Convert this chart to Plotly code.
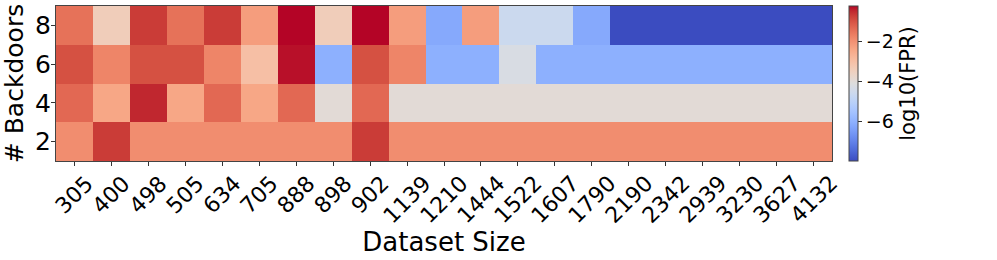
import plotly.graph_objects as go

dataset_sizes = ["305", "400", "498", "505", "634", "705", "888", "898", "902", "1139",
                 "1210", "1444", "1522", "1607", "1790", "2190", "2342", "2939", "3230", "3627", "4132"]
backdoors = [2, 4, 6, 8]

row_2 = [-1.9, -0.67, -1.9, -1.9, -1.9, -1.9, -1.9, -1.9, -0.67, -1.9,
         -1.9, -1.9, -1.9, -1.9, -1.9, -1.9, -1.9, -1.9, -1.9, -1.9, -1.9]
row_4 = [-1.3, -2.4, -0.44, -2.4, -1.3, -2.4, -1.3, -3.95, -1.3, -3.95,
         -3.95, -3.95, -3.95, -3.95, -3.95, -3.95, -3.95, -3.95, -3.95, -3.95, -3.95]
row_6 = [-0.94, -1.76, -0.94, -0.94, -1.76, -3.0, -0.28, -6.05, -0.94, -1.76,
         -6.05, -6.05, -4.25, -6.05, -6.05, -6.05, -6.05, -6.05, -6.05, -6.05, -6.05]
row_8 = [-1.45, -3.4, -0.67, -1.45, -0.67, -2.2, -0.2, -3.4, -0.2, -2.2,
         -6.2, -2.2, -4.6, -4.6, -6.2, -8.0, -8.0, -8.0, -8.0, -8.0, -8.0]

coolwarm_rgb = [
    (59, 76, 192), (68, 90, 204), (77, 104, 215), (87, 117, 225), (98, 130, 234),
    (108, 142, 241), (119, 154, 247), (130, 165, 251), (141, 176, 254), (152, 185, 255),
    (163, 194, 255), (174, 201, 253), (184, 208, 249), (194, 213, 244), (204, 217, 238),
    (213, 219, 230), (221, 221, 221), (229, 216, 209), (236, 211, 197), (241, 204, 184),
    (245, 196, 172), (247, 187, 159), (247, 177, 147), (247, 167, 134), (244, 154, 123),
    (241, 141, 111), (236, 127, 99), (229, 112, 88), (222, 96, 77), (213, 80, 66),
    (203, 62, 56), (192, 40, 47), (180, 4, 38)]
n = len(coolwarm_rgb) - 1
colorscale = [[i / n, "rgb(%d,%d,%d)" % c] for i, c in enumerate(coolwarm_rgb)]

z = [row_2, row_4, row_6, row_8]

fig = go.Figure(go.Heatmap(
    x=dataset_sizes, y=backdoors, z=z,
    colorscale=colorscale, zmin=-8.0, zmax=-0.2,
    xgap=0, ygap=0,
    colorbar=dict(
        title=dict(text="log10(FPR)", side="right", font=dict(size=21, color="black")),
        tickvals=[-2, -4, -6], ticktext=["\u22122", "\u22124", "\u22126"],
        tickfont=dict(size=19, color="black"),
        ticks="outside", ticklen=4, tickcolor="#333",
        thickness=9, len=1, lenmode="fraction", y=0.5, yanchor="middle",
        x=1.0219, xanchor="left", xpad=0, ypad=0,
        outlinewidth=1, outlinecolor="#444",
    ),
))

# x tick labels rotated 45 deg and centred under each tick (matplotlib style);
# positions are the category axis' own indices
for i, lab in enumerate(dataset_sizes):
    fig.add_annotation(
        x=i, xref="x", y=0, yref="paper", yshift=-7,
        text=lab, textangle=-45, showarrow=False,
        xanchor="center", yanchor="top",
        font=dict(size=22, color="black", family="DejaVu Sans"),
    )

fig.update_layout(
    width=997, height=260,
    margin=dict(l=56, r=165, t=6, b=99),
    paper_bgcolor="white", plot_bgcolor="white",
    font=dict(family="DejaVu Sans", color="black"),
    xaxis=dict(
        type="category",
        range=[-0.5, len(dataset_sizes) - 0.5],
        title=dict(text="Dataset Size", font=dict(size=26), standoff=67),
        showticklabels=False,
        ticks="outside", ticklen=4, tickcolor="#333",
        showline=True, linecolor="#444", linewidth=1, mirror=True,
        showgrid=False, zeroline=False, automargin=False,
    ),
    yaxis=dict(
        title=dict(text="# Backdoors", font=dict(size=25), standoff=4),
        tickvals=backdoors, tickfont=dict(size=25),
        ticklabelstandoff=-5,
        range=[1, 9],
        ticks="outside", ticklen=4, tickcolor="#333",
        showline=True, linecolor="#444", linewidth=1, mirror=True,
        showgrid=False, zeroline=False, automargin=False,
    ),
)

fig.write_html("out.html", config={"displayModeBar": False},
               post_script="document.body.style.margin='0';document.body.style.overflow='hidden';")
